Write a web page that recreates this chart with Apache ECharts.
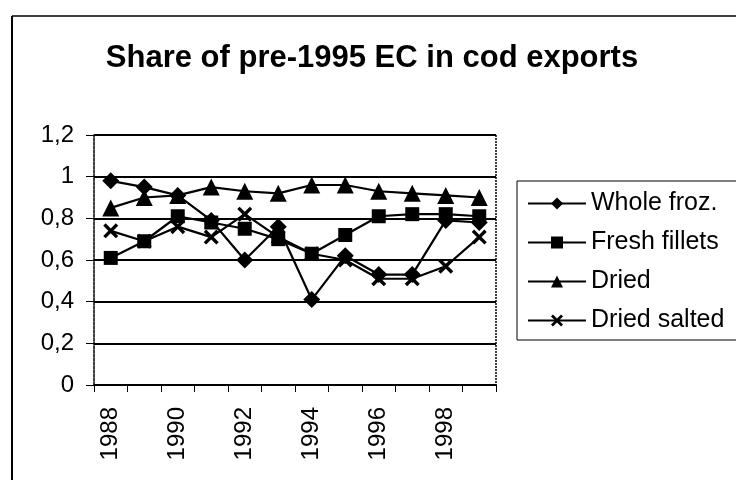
<!DOCTYPE html>
<html><head><meta charset="utf-8">
<script src="https://cdn.jsdelivr.net/npm/echarts@6/dist/echarts.min.js"></script>
<style>html,body{margin:0;padding:0;background:#fff}#c{width:736px;height:482px}</style>
</head><body><div id="c"></div>
<script>
const years = ['1988','1989','1990','1991','1992','1993','1994','1995','1996','1997','1998','1999'];
const wholeFroz = [0.98,0.95,0.91,0.79,0.60,0.76,0.41,0.62,0.53,0.53,0.79,0.78];
const freshFillets = [0.61,0.69,0.81,0.78,0.75,0.70,0.63,0.72,0.81,0.82,0.82,0.81];
const dried = [0.85,0.90,0.91,0.95,0.93,0.92,0.96,0.96,0.93,0.92,0.91,0.90];
const driedSalted = [0.74,0.69,0.76,0.71,0.82,0.71,0.63,0.60,0.51,0.51,0.57,0.71];
const yTicks = [0,0.2,0.4,0.6,0.8,1,1.2];

const F = '"Liberation Sans", Arial, sans-serif';
const xPath = 'path://M0,1.6L1.6,0L5,3.4L8.4,0L10,1.6L6.6,5L10,8.4L8.4,10L5,6.6L1.6,10L0,8.4L3.4,5Z';
function mk(name, data, symbol, size){
  return {name, type:'line', data, symbol, symbolSize:size, showSymbol:true,
    lineStyle:{color:'#000', width:2.2}, itemStyle:{color:'#000'}, animation:false};
}
const chart = echarts.init(document.getElementById('c'));
chart.setOption({
  animation:false,
  title:{text:'Share of pre-1995 EC in cod exports', left:367, top:38, textAlign:'center',
    textStyle:{fontFamily:F, fontSize:31, fontWeight:'bold', color:'#000'}},
  grid:{left:94, right:240, top:135, bottom:97, show:true, borderColor:'#000', borderWidth:0},
  legend:{orient:'vertical', left:522, top:186, itemWidth:58, itemHeight:15, itemGap:14,
    textStyle:{fontFamily:F, fontSize:25, color:'#000'},
    data:['Whole froz.','Fresh fillets','Dried','Dried salted']},
  xAxis:{type:'category', data:years, boundaryGap:true,
    axisLine:{lineStyle:{color:'#000', width:1.5, type:[3,1]}},
    axisTick:{show:true, length:7, lineStyle:{color:'#000'}, interval:0},
    axisLabel:{rotate:90, interval:1, fontFamily:F, fontSize:24, color:'#000', margin:22}},
  yAxis:{type:'value', min:0, max:1.2, interval:0.2,
    axisLine:{show:true, lineStyle:{color:'#000', width:1.5, type:[3,1]}},
    axisTick:{show:true, length:8, lineStyle:{color:'#000'}},
    splitLine:{lineStyle:{color:'#000', width:1.8}},
    axisLabel:{fontFamily:F, fontSize:24, color:'#000', margin:20,
      formatter:v=>{const t=yTicks.find(k=>Math.abs(k-v)<1e-9); return String(+(t??v).toFixed(1)).replace('.',',');}}},
  series:[
    mk('Whole froz.', wholeFroz, 'diamond', 17),
    mk('Fresh fillets', freshFillets, 'rect', 14),
    mk('Dried', dried, 'triangle', 17),
    mk('Dried salted', driedSalted, xPath, 15)
  ],
  graphic:[
    {type:'line', shape:{x1:12,y1:16,x2:736,y2:16}, style:{stroke:'#000', lineWidth:1.5}},
    {type:'line', shape:{x1:12,y1:16,x2:12,y2:480}, style:{stroke:'#000', lineWidth:2}},
    {type:'line', shape:{x1:496,y1:135,x2:496,y2:385}, style:{stroke:'#000', lineWidth:1.5, lineDash:[2,1]}},
    {type:'line', shape:{x1:94,y1:135,x2:496,y2:135}, style:{stroke:'#000', lineWidth:1.5, lineDash:[2,1]}},
    {type:'rect', shape:{x:517,y:181,width:240,height:159}, style:{fill:'none', stroke:'#000', lineWidth:1}}
  ]
});
</script></body></html>
